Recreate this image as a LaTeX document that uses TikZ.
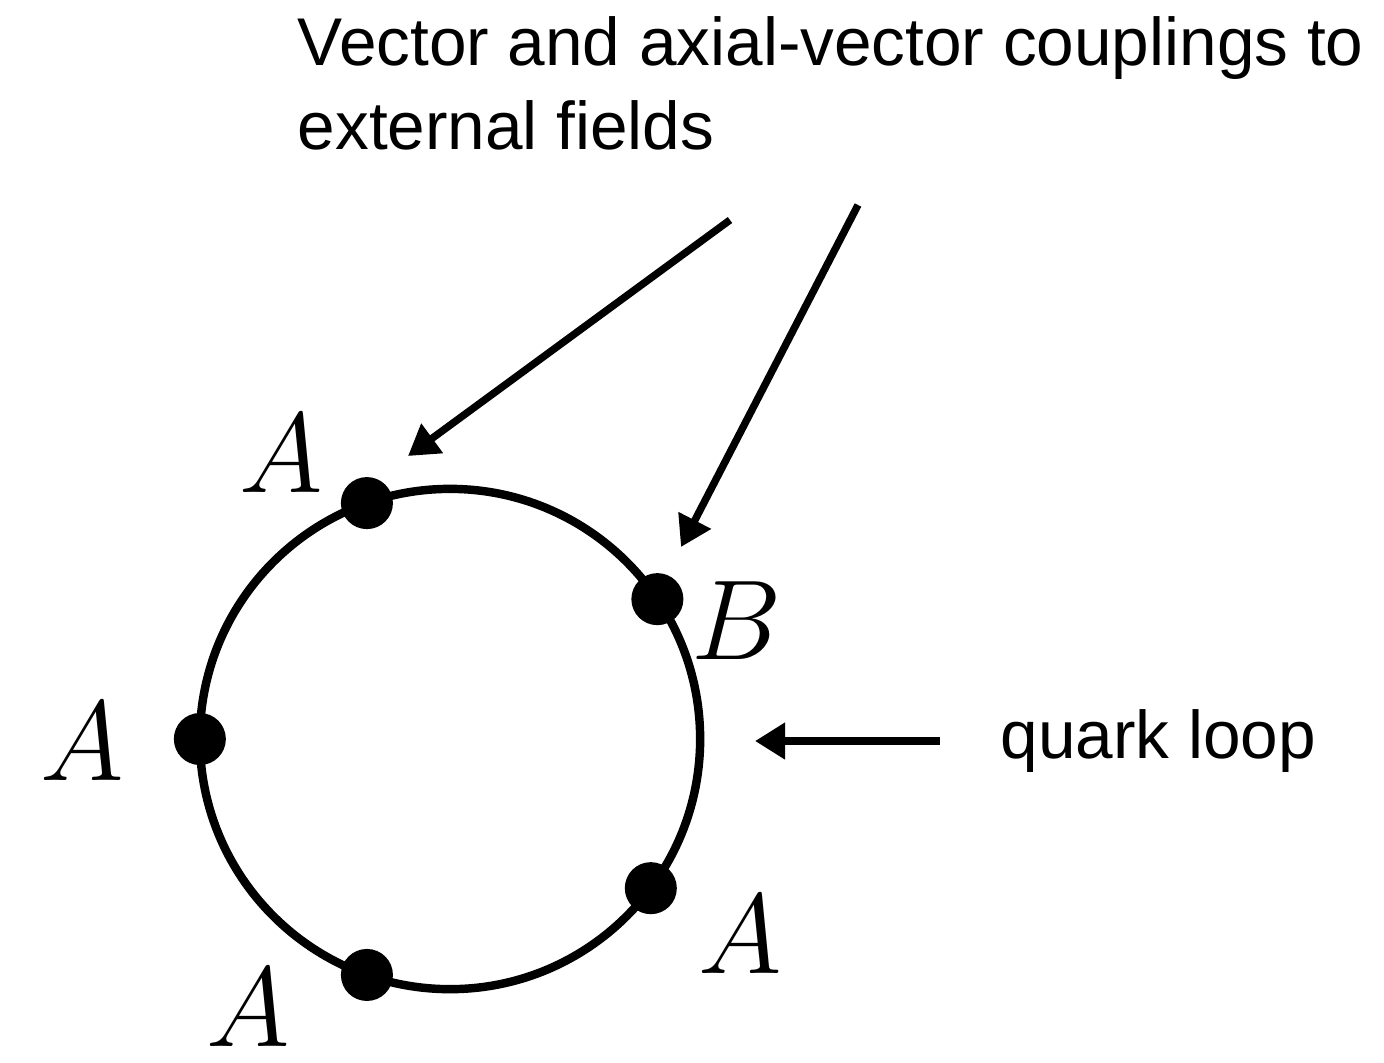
\documentclass[tikz,border=0pt]{standalone}
\usepackage{fontspec}
\usepackage{graphicx}
\newfontfamily\helv{Liberation Sans}
\usetikzlibrary{arrows.meta}
\newcommand{\flabel}[1]{\scalebox{1.3}{$#1$}}

\begin{document}
\begin{tikzpicture}[
  x=0.01cm, y=-0.01cm,
  qline/.style={line width=2.4pt},
  vtx/.style={circle, fill=black, inner sep=0pt, minimum size=0.52cm},
  flab/.style={inner sep=0pt, font=\fontsize{24.88}{30}\selectfont},
  txt/.style={inner sep=0pt, font=\helv\fontsize{19.2}{23.9}\selectfont, align=left},
  arr/.style={-{Triangle[length=0.3cm, width=0.35cm]}, line width=2.1pt}
]
\useasboundingbox (0,0) rectangle (1384,1062);

% quark loop with the five vertices
\coordinate (c) at (450,739);
\draw[qline] (c) circle[radius=2.5cm];
\node[vtx] (vA1) at ([shift={(109.4:2.5cm)}]c) {};
\node[vtx] (vB)  at ([shift={(34:2.5cm)}]c)    {};
\node[vtx] (vA2) at ([shift={(180:2.5cm)}]c)   {};
\node[vtx] (vA3) at ([shift={(-36.6:2.5cm)}]c) {};
\node[vtx] (vA4) at ([shift={(-109.4:2.5cm)}]c) {};

\node[flab] (lA1) at (281,454)  {\flabel{A}};
\node[flab] (lB)  at (737,621)  {\flabel{B}};
\node[flab] (lA2) at (82,742)   {\flabel{A}};
\node[flab] (lA3) at (740,935)  {\flabel{A}};
\node[flab] (lA4) at (248,1008) {\flabel{A}};

% labels and pointers
\node[txt, anchor=north west] (title) at (297,16)
  {Vector and axial-vector couplings to\\external fields};
\node[txt, anchor=west] (qlab) at (1000,741) {quark loop};

\coordinate (s1) at (730,220);  \coordinate (e1) at (408,456);
\coordinate (s2) at (858,205);  \coordinate (e2) at (681,547);
\coordinate (s3) at (940,741);  \coordinate (e3) at (755,741);
\draw[arr] (s1) -- (e1);
\draw[arr] (s2) -- (e2);
\draw[arr] (s3) -- (e3);
\end{tikzpicture}
\end{document}
